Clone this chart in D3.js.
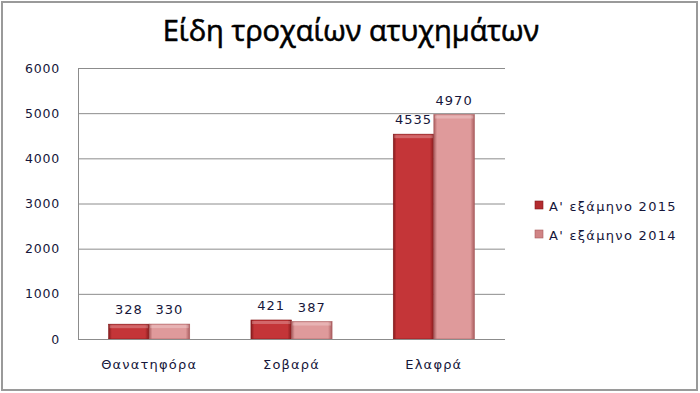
<!DOCTYPE html>
<html>
<head>
<meta charset="utf-8">
<script src="https://cdn.jsdelivr.net/npm/d3@7"></script>
<style>
  body { margin: 0; background: #fff; }
</style>
</head>
<body>
<div class="chart"></div>
<script>
// data
var categories = ["Θανατηφόρα", "Σοβαρά", "Ελαφρά"];
var seriesNames = ["Α' εξάμηνο 2015", "Α' εξάμηνο 2014"];
var values2015 = [328, 421, 4535];
var values2014 = [330, 387, 4970];
var yTicks = [0, 1000, 2000, 3000, 4000, 5000, 6000];

var svgWidth = 700;
var svgHeight = 393;
var margin = { top: 68, right: 195, bottom: 54, left: 78 };
var width = svgWidth - margin.left - margin.right;
var height = svgHeight - margin.top - margin.bottom;

var labelFont = "'DejaVu Sans', Verdana, sans-serif";
var textColour = "#16163a";

var svg = d3.select(".chart")
  .append("svg")
  .attr("width", svgWidth)
  .attr("height", svgHeight);

// bevel-ish gradients for the bars
var defs = svg.append("defs");
var colours = [
  { id: "g2015", edge: "#841a1c", mid: "#c43538", solid: "#b32c2f" },
  { id: "g2014", edge: "#a95c5e", mid: "#df9a9b", solid: "#d08485" }
];
colours.forEach(function(c) {
  var g = defs.append("linearGradient").attr("id", c.id)
    .attr("x1", "0%").attr("x2", "100%").attr("y1", "0%").attr("y2", "0%");
  g.append("stop").attr("offset", "0%").attr("stop-color", c.edge);
  g.append("stop").attr("offset", "8%").attr("stop-color", c.mid);
  g.append("stop").attr("offset", "90%").attr("stop-color", c.mid);
  g.append("stop").attr("offset", "100%").attr("stop-color", c.edge);
});

// outer frame
svg.append("rect")
  .attr("x", 2).attr("y", 2)
  .attr("width", svgWidth - 5).attr("height", svgHeight - 5)
  .attr("fill", "#fff")
  .attr("stroke", "#9a9a9a")
  .attr("stroke-width", 2);

svg.append("text")
  .attr("x", 351)
  .attr("y", 41)
  .attr("text-anchor", "middle")
  .style("font-family", "'Open Sans', 'Noto Sans', sans-serif")
  .style("font-size", "29px")
  .attr("fill", "#000")
  .attr("stroke", "#000")
  .attr("stroke-width", 0.6)
  .text("Είδη τροχαίων ατυχημάτων");

var chart = svg.append("g")
  .attr("transform", "translate(" + margin.left + "," + margin.top + ")");

var x0 = d3.scaleBand().domain(categories).range([0, width]).paddingInner(0.43).paddingOuter(0.215);
var x1 = d3.scaleBand().domain([0, 1]).range([0, x0.bandwidth()]);
var y = d3.scaleLinear().domain([0, 6000]).range([height, 0]);

// gridlines
chart.append("g")
  .selectAll("line")
  .data(yTicks.slice(1))
  .enter()
  .append("line")
  .attr("x1", 0).attr("x2", width)
  .attr("y1", function(d) { return y(d) + 0.5; })
  .attr("y2", function(d) { return y(d) + 0.5; })
  .attr("stroke", "#8c8c8c")
  .attr("stroke-width", 1);

var leftAxis = d3.axisLeft(y).tickValues(yTicks).tickFormat(d3.format("d")).tickSize(0).tickPadding(18);
var yAxis = chart.append("g").call(leftAxis);
yAxis.select(".domain").remove();
yAxis.selectAll("text")
  .style("font-family", labelFont)
  .style("font-size", "12.5px")
  .style("letter-spacing", "0.8px")
  .attr("fill", textColour);

var rows = categories.map(function(c, i) {
  return { cat: c, vals: [values2015[i], values2014[i]] };
});

var groups = chart.selectAll(".grp")
  .data(rows)
  .enter()
  .append("g")
  .attr("transform", function(d) { return "translate(" + x0(d.cat) + ",0)"; });

groups.selectAll("rect")
  .data(function(d) { return d.vals; })
  .enter()
  .append("rect")
  .attr("x", function(d, i) { return x1(i); })
  .attr("y", function(d) { return y(d); })
  .attr("width", x1.bandwidth())
  .attr("height", function(d) { return height - y(d); })
  .attr("fill", function(d, i) { return "url(#" + colours[i].id + ")"; })
  .attr("stroke", function(d, i) { return colours[i].edge; })
  .attr("stroke-width", 0.6);

// top highlight on each bar
groups.selectAll(".hl")
  .data(function(d) { return d.vals; })
  .enter()
  .append("rect")
  .attr("x", function(d, i) { return x1(i) + 1; })
  .attr("y", function(d) { return y(d) + 1; })
  .attr("width", x1.bandwidth() - 2)
  .attr("height", 3)
  .attr("fill", "#fff")
  .attr("opacity", 0.25);

groups.selectAll(".lbl")
  .data(function(d) { return d.vals; })
  .enter()
  .append("text")
  .attr("x", function(d, i) { return x1(i) + x1.bandwidth() / 2; })
  .attr("y", function(d) { return y(d) - 10; })
  .attr("text-anchor", "middle")
  .style("font-family", labelFont)
  .style("font-size", "13px")
  .style("letter-spacing", "1px")
  .attr("fill", textColour)
  .text(function(d) { return d; });

// axis lines
chart.append("line")
  .attr("x1", 0.5).attr("x2", 0.5)
  .attr("y1", 0).attr("y2", height)
  .attr("stroke", "#8c8c8c");
chart.append("line")
  .attr("x1", 0).attr("x2", width)
  .attr("y1", height + 0.5).attr("y2", height + 0.5)
  .attr("stroke", "#8c8c8c");

var bottomAxis = d3.axisBottom(x0).tickSize(0).tickPadding(21);
var xAxis = chart.append("g").attr("transform", "translate(0," + height + ")").call(bottomAxis);
xAxis.select(".domain").remove();
xAxis.selectAll("text")
  .style("font-family", labelFont)
  .style("font-size", "13px")
  .style("letter-spacing", "1.2px")
  .attr("fill", textColour);

// legend
var legend = svg.append("g").attr("transform", "translate(535,200)");
seriesNames.forEach(function(name, i) {
  var row = legend.append("g").attr("transform", "translate(0," + (i * 29) + ")");
  row.append("rect")
    .attr("x", 0).attr("y", 1)
    .attr("width", 8).attr("height", 8)
    .attr("fill", colours[i].solid)
    .attr("stroke", colours[i].edge)
    .attr("stroke-width", 0.6);
  row.append("text")
    .attr("x", 14).attr("y", 11)
    .style("font-family", labelFont)
    .style("font-size", "13px")
    .style("letter-spacing", "1.3px")
    .attr("fill", textColour)
    .text(name);
});
</script>
</body>
</html>
